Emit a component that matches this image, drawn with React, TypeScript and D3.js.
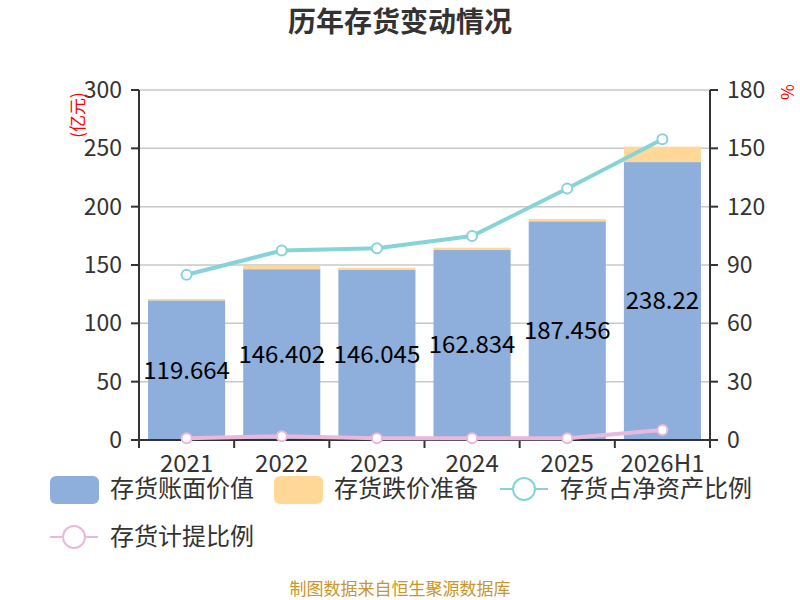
import * as d3 from "d3";

const years = ["2021", "2022", "2023", "2024", "2025", "2026H1"];
const bookValue = [119.664, 146.402, 146.045, 162.834, 187.456, 238.22];
const impairment = [1.2, 2.7, 1.6, 2.0, 2.0, 13.2];
const netAssetRatio = [85.0, 97.4, 98.6, 104.9, 129.3, 154.7];
const provisionRatio = [0.9, 1.9, 0.9, 0.9, 0.9, 5.1];
const leftTicks = [0, 50, 100, 150, 200, 250, 300];
const rightTicks = [0, 30, 60, 90, 120, 150, 180];

const BLUE = "#8eaedb";
const YELLOW = "#ffd898";
const TEAL = "#86d4d8";
const PINK = "#e9b8db";
const TEXT = "#333";
const FONT = "'Noto Sans CJK SC', 'Noto Sans', sans-serif";

const left = 139;
const right = 710;
const top = 90;
const bottom = 440;

export default function App() {
  const x = d3.scaleBand<string>().domain(years).range([left, right]).paddingInner(0.19).paddingOuter(0.095);
  const xOuter = d3.scaleBand<string>().domain(years).range([left, right]);
  const yL = d3.scaleLinear().domain([0, 300]).range([bottom, top]);
  const yR = d3.scaleLinear().domain([0, 180]).range([bottom, top]);
  const cx = (i: number) => xOuter(years[i])! + xOuter.bandwidth() / 2;
  const lineR = (vals: number[]) =>
    d3
      .line<number>()
      .x((_, i) => cx(i))
      .y((d) => yR(d))(vals) ?? "";

  return (
    <svg width={800} height={600} style={{ position: "absolute", left: 0, top: 0, fontFamily: FONT }}>
      <rect width={800} height={600} fill="#fff" />
      <text x={400} y={22} dy="0.35em" textAnchor="middle" fontSize={28} fontWeight="bold" fill={TEXT}>
        历年存货变动情况
      </text>

      {leftTicks.map((t) => (
        <g key={t}>
          <line x1={left} x2={right} y1={yL(t)} y2={yL(t)} stroke="#c8c8c8" strokeWidth={1.5} />
          <line x1={left - 8} x2={left} y1={yL(t)} y2={yL(t)} stroke={TEXT} strokeWidth={2} />
          <text x={122} y={yL(t)} dy="0.35em" textAnchor="end" fontSize={23} fill={TEXT}>
            {t}
          </text>
        </g>
      ))}
      {rightTicks.map((t) => (
        <g key={t}>
          <line x1={right} x2={right + 8} y1={yR(t)} y2={yR(t)} stroke={TEXT} strokeWidth={2} />
          <text x={727} y={yR(t)} dy="0.35em" fontSize={23} fill={TEXT}>
            {t}
          </text>
        </g>
      ))}
      <text transform="translate(78,115) rotate(-90)" textAnchor="middle" dy="0.35em" fontSize={17} fill="red">
        (亿元)
      </text>
      <text transform="translate(787,92) rotate(90)" textAnchor="middle" dy="0.35em" fontSize={17} fill="red">
        %
      </text>

      {years.map((yr, i) => (
        <g key={yr}>
          <rect x={x(yr)} width={x.bandwidth()} y={yL(bookValue[i])} height={yL(0) - yL(bookValue[i])} fill={BLUE} />
          <rect
            x={x(yr)}
            width={x.bandwidth()}
            y={yL(bookValue[i] + impairment[i])}
            height={yL(bookValue[i]) - yL(bookValue[i] + impairment[i])}
            fill={YELLOW}
          />
        </g>
      ))}

      <line x1={left} x2={left} y1={top} y2={bottom} stroke={TEXT} strokeWidth={2} />
      <line x1={right} x2={right} y1={top} y2={bottom} stroke={TEXT} strokeWidth={2} />
      <line x1={left} x2={right} y1={bottom} y2={bottom} stroke={TEXT} strokeWidth={2} />
      {years.concat("").map((yr, i) => {
        const xx = left + i * xOuter.step();
        return <line key={i} x1={xx} x2={xx} y1={bottom} y2={bottom + 8} stroke={TEXT} strokeWidth={2} />;
      })}
      {years.map((yr, i) => (
        <text key={yr} x={cx(i)} y={464} dy="0.35em" textAnchor="middle" fontSize={24} fill={TEXT}>
          {yr}
        </text>
      ))}

      <path d={lineR(netAssetRatio)} fill="none" stroke={TEAL} strokeWidth={4} />
      {netAssetRatio.map((v, i) => (
        <circle key={i} cx={cx(i)} cy={yR(v)} r={5} fill="#fff" stroke={TEAL} strokeWidth={2} />
      ))}
      <path d={lineR(provisionRatio)} fill="none" stroke={PINK} strokeWidth={4} />
      {provisionRatio.map((v, i) => (
        <circle key={i} cx={cx(i)} cy={yR(v)} r={5} fill="#fff" stroke={PINK} strokeWidth={2} />
      ))}

      {years.map((yr, i) => (
        <text key={yr} x={x(yr)! + x.bandwidth() / 2} y={yL(bookValue[i] / 2)} dy="0.35em" textAnchor="middle" fontSize={24} fill="#000">
          {bookValue[i]}
        </text>
      ))}

      <g fontSize={24} fill={TEXT}>
        <rect x={50} y={476} width={49} height={28} rx={6} fill={BLUE} />
        <text x={110} y={489} dy="0.35em">存货账面价值</text>
        <rect x={274} y={476} width={49} height={28} rx={6} fill={YELLOW} />
        <text x={334} y={489} dy="0.35em">存货跌价准备</text>
        <line x1={500} x2={548} y1={489} y2={489} stroke={TEAL} strokeWidth={2} />
        <circle cx={524} cy={489} r={11} fill="#fff" stroke={TEAL} strokeWidth={2} />
        <text x={560} y={489} dy="0.35em">存货占净资产比例</text>
        <line x1={50} x2={98} y1={537} y2={537} stroke={PINK} strokeWidth={2} />
        <circle cx={74} cy={537} r={11} fill="#fff" stroke={PINK} strokeWidth={2} />
        <text x={110} y={537} dy="0.35em">存货计提比例</text>
      </g>

      <text x={400} y={589} dy="0.35em" textAnchor="middle" fontSize={17} fill="#c8962a">
        制图数据来自恒生聚源数据库
      </text>
    </svg>
  );
}
